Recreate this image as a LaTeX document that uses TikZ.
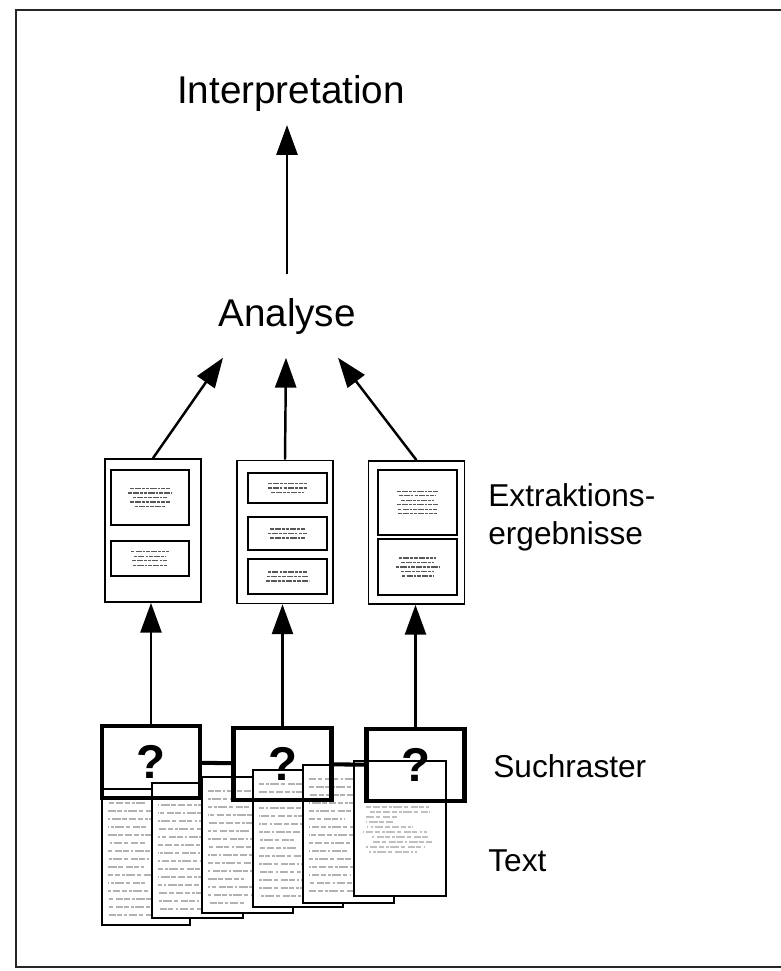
\documentclass[tikz,border=0pt]{standalone}
\usepackage{fontspec}
\setmainfont{Liberation Sans}
\usetikzlibrary{arrows.meta}
\usetikzlibrary{calc}

\begin{document}
\begin{tikzpicture}[x=0.02cm, y=-0.02cm,
    arr/.style={line width=1.4pt, -{Triangle[length=17pt, width=12pt]}},
    big/.style={font=\fontsize{22}{26}\selectfont, inner sep=0pt, anchor=base},
    lbl/.style={font=\fontsize{18}{21.5}\selectfont, inner sep=0pt, anchor=base west, align=left},
    exbox/.style={draw, line width=1pt, minimum width=1.92cm, minimum height=2.86cm, inner sep=0pt},
    inbox/.style={draw, line width=1pt, minimum width=1.57cm, inner sep=0pt},
    raster/.style={draw, line width=2.3pt, minimum width=1.96cm, minimum height=1.44cm, inner sep=0pt, font=\fontsize{27}{27}\bfseries\selectfont},
    sheet/.style={draw, fill=white, line width=1pt},
    words/.style={line width=1.2pt, black!30, dash pattern=on 3pt off 1.2pt on 1.5pt off 0.8pt on 5pt off 1pt on 2.5pt off 1.5pt on 4pt off 0.8pt},
    tiny/.style={line width=0.7pt, black!65, dash pattern=on 2pt off 0.6pt on 3.5pt off 0.6pt on 1.5pt off 0.6pt}]
      \useasboundingbox (0,0) rectangle (781,971);
      \draw[line width=1.2pt, black!85] (784,10) -- (16,10) -- (16,967) -- (784,967);
      \pgfmathsetseed{11}

      \node[big, outer sep=8pt] (interp) at (291,103) {Interpretation};
      \node[big, outer sep=13.5pt] (ana) at (287,326) {Analyse};

      \node[exbox] (e1) at (153,530.5) {};
      \node[exbox] (e2) at (285,532) {};
      \node[exbox] (e3) at (416.5,532.5) {};
      \node[inbox, minimum height=1.1cm] (e1a) at (150,497.5) {};
      \node[inbox, minimum height=0.7cm] (e1b) at (150,558.5) {};
      \node[inbox, minimum height=0.6cm] (e2a) at (287.5,488) {};
      \node[inbox, minimum height=0.66cm] (e2b) at (287.5,533.5) {};
      \node[inbox, minimum height=0.7cm] (e2c) at (287.5,576.5) {};
      \node[inbox, minimum height=1.3cm] (e3a) at (417.5,502.5) {};
      \node[inbox, minimum height=1.12cm] (e3b) at (417.5,567) {};
      \foreach \n/\k in {e1a/5, e1b/4, e2a/3, e2b/3, e2c/3, e3a/6, e3b/5}{
        \foreach \i in {1,...,\k}{
          \pgfmathsetmacro\w{30+14*rnd}
          \draw[tiny] ($(\n.center)+({-\w/2},{(\i-(\k+1)/2)*4.5})$) -- ++(\w,0);
        }
      }

      \foreach \l/\t/\r/\b in {102/789/190/925, 152/783/243/918, 202/777/293/913, 253/770/343/907, 303/765/394/903}{
        \draw[sheet] (\l,\t) rectangle (\r,\b);
        \pgfmathtruncatemacro\ya{\t+14}
        \pgfmathtruncatemacro\yb{\t+22}
        \pgfmathtruncatemacro\ye{\b-8}
        \foreach \y in {\ya,\yb,...,\ye}{
          \pgfmathsetmacro\w{(\r-\l-12)*(0.45+0.55*rnd)}
          \pgfmathsetmacro\ph{20*rnd}
          \draw[words, dash phase=\ph pt] (\l+6,\y) -- ++(\w,0);
        }
      }
      \draw[sheet] (354,761) rectangle (446,896);
      \foreach \y in {807,812,...,852}{
        \pgfmathsetmacro\w{25+40*rnd}
        \pgfmathsetmacro\o{12*rnd}
        \pgfmathsetmacro\ph{20*rnd}
        \draw[words, black!25, line width=0.9pt, dash phase=\ph pt] (362+\o,\y) -- ++(\w,0);
      }

      \node[raster] (s1) at (151,762) {?};
      \node[raster] (s2) at (282.5,764) {?};
      \node[raster] (s3) at (415.5,765) {?};
      \draw[line width=2.3pt] (s1) -- (s2);
      \draw[line width=2.3pt] (s2) -- (s3);

      \coordinate (t1) at ($(ana.south)+(-64,0)$);
      \coordinate (t2) at ($(ana.south)+(-1,0)$);
      \coordinate (t3) at ($(ana.south)+(51,0)$);

      \draw[arr] (ana.north) -- (ana.north |- interp.south);
      \draw[arr] (e1.north) -- (t1);
      \draw[arr] (e2.north) -- (t2);
      \draw[arr] (e3.north) -- (t3);
      \draw[arr] (s1.north) -- (s1.north |- e1.south);
      \draw[arr] (s2.north) -- (s2.north |- e2.south);
      \draw[arr] (s3.north) -- (s3.north |- e3.south);

      \node[lbl] (ext) at (488,544) {Extraktions-\\ergebnisse};
      \node[lbl] (such) at (493,777) {Suchraster};
      \node[lbl] (txt) at (488,871) {Text};
    \end{tikzpicture}
\end{document}
